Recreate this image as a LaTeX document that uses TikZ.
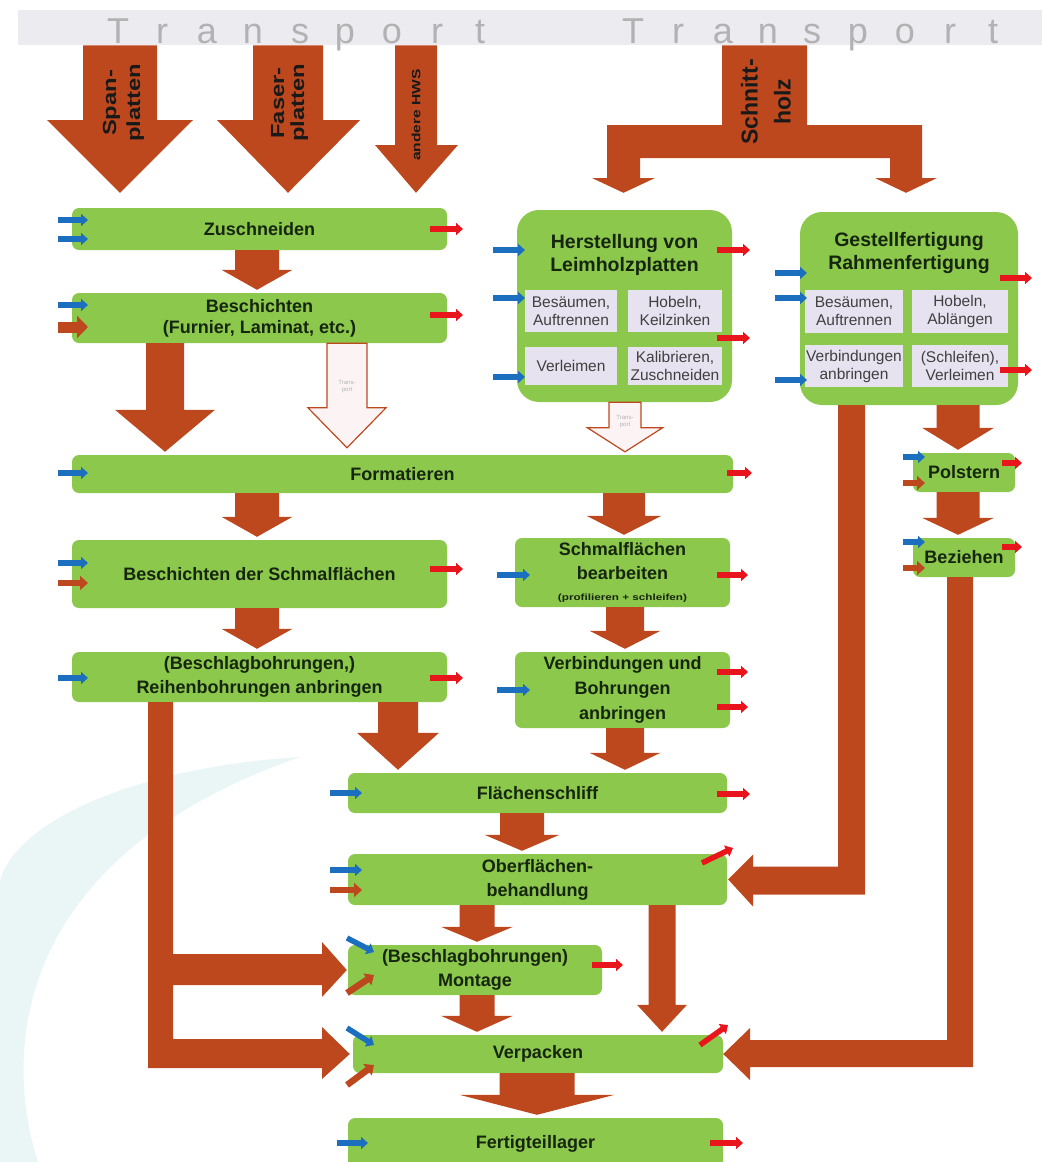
\documentclass[tikz,border=0pt]{standalone}
\usepackage{fontspec}
\setmainfont{Liberation Sans}
\usetikzlibrary{arrows.meta,calc}

\definecolor{boxgreen}{RGB}{140,200,76}
\definecolor{rust}{RGB}{190,72,30}
\definecolor{inblue}{RGB}{28,110,190}
\definecolor{outred}{RGB}{232,22,28}
\definecolor{lav}{RGB}{230,226,240}
\definecolor{boxtext}{RGB}{22,38,14}
\definecolor{bannerbg}{RGB}{235,235,240}
\definecolor{bannertext}{RGB}{178,178,178}
\definecolor{swoosh}{RGB}{234,246,246}
\definecolor{hollowfill}{RGB}{252,244,244}

% straight block arrow pointing down, from the bottom of one box to the top of the next
% #1 x, #2 source node, #3 target node, #4 half shaft width, #5 half head width, #6 head length
\newcommand\blockdown[6]{%
  \fill[rust] let \p1=(#2.south), \p2=(#3.north) in
    (#1pt-#4pt,\y1) -- (#1pt+#4pt,\y1) -- (#1pt+#4pt,\y2+#6pt+3pt)
    -- (#1pt+#5pt,\y2+#6pt+3pt) -- (#1pt,\y2+3pt) -- (#1pt-#5pt,\y2+#6pt+3pt)
    -- (#1pt-#4pt,\y2+#6pt+3pt) -- cycle;}
% outlined (hollow) block arrow, #7 gap above the target
\newcommand\hollowdown[7]{%
  \filldraw[draw=rust, fill=hollowfill, line width=1.2pt, line join=miter]
    let \p1=(#2.south), \p2=(#3.north) in
    (#1pt-#4pt,\y1) -- (#1pt+#4pt,\y1) -- (#1pt+#4pt,\y2+#6pt+#7pt)
    -- (#1pt+#5pt,\y2+#6pt+#7pt) -- (#1pt,\y2+#7pt) -- (#1pt-#5pt,\y2+#6pt+#7pt)
    -- (#1pt-#4pt,\y2+#6pt+#7pt) -- cycle;}

\tikzset{
  proc/.style={fill=boxgreen, rounded corners=7pt, inner sep=0pt, align=center,
    text=boxtext, font=\fontsize{18}{24}\selectfont\bfseries},
  bigproc/.style={fill=boxgreen, rounded corners=22pt, inner sep=0pt},
  ptitle/.style={align=center, text=boxtext, inner sep=0pt,
    font=\fontsize{19.5}{23}\selectfont\bfseries},
  sub/.style={fill=lav, inner sep=0pt, align=center, text=black!75,
    font=\fontsize{15.5}{18}\selectfont},
  srclabel/.style={rotate=90, align=center, text=black!90, inner sep=0pt},
  bannerchar/.style={anchor=base, text=bannertext, inner sep=0pt,
    font=\fontsize{36}{40}\selectfont},
  tinylabel/.style={align=center, text=black!30, inner sep=0pt,
    font=\fontsize{6}{7}\selectfont},
  bluein/.style={draw=inblue, line width=5.5pt, -{Triangle[length=7pt,width=12pt]}},
  redout/.style={draw=outred, line width=5.5pt, -{Triangle[length=7pt,width=12pt]}},
  rustin/.style={draw=rust, line width=6.5pt, -{Triangle[length=8pt,width=14pt]}},
  rustbig/.style={draw=rust, line width=11pt, -{Triangle[length=11pt,width=22pt]}},
}

\begin{document}
\begin{tikzpicture}[x=1pt,y=-1pt]
\useasboundingbox (0,0) rectangle (1042,1162);

% faint background swoosh
\fill[swoosh] (300,757) .. controls (150,766) and (20,815) .. (0,880) -- (0,1162)
  -- (38,1162) .. controls (5,1060) and (5,860) .. (300,757) -- cycle;

% transport banner
\node[fill=bannerbg, minimum width=1024pt, minimum height=35pt, inner sep=0pt,
  anchor=north west] (banner) at (18,10) {};
\foreach \ch/\xx [count=\i] in {T/118,r/162,a/207,n/253,s/300,p/345,o/392,r/437,t/480}
  \node[bannerchar] (bl-\i) at (\xx,43) {\ch};
\foreach \ch/\xx [count=\i] in {T/633,r/678,a/723,n/768,s/812,p/858,o/905,r/950,t/993}
  \node[bannerchar] (br-\i) at (\xx,43) {\ch};

% ---------- process boxes ----------
\node[proc, minimum width=375pt, minimum height=42pt] (zusch) at (259.5,229) {Zuschneiden};
\node[proc, minimum width=375pt, minimum height=50pt, font=\fontsize{18}{21}\selectfont\bfseries]
  (besch) at (259.5,318) {Beschichten\\(Furnier, Laminat, etc.)};
\node[proc, minimum width=661pt, minimum height=38pt] (format) at (402.5,474) {Formatieren};
\node[proc, minimum width=375pt, minimum height=68pt] (bschmal) at (259.5,574)
  {Beschichten der Schmalflächen};
\node[proc, minimum width=375pt, minimum height=50pt] (reihen) at (259.5,677)
  {(Beschlagbohrungen,)\\Reihenbohrungen anbringen};

\node[bigproc, minimum width=215pt, minimum height=192pt] (leim) at (624.5,306) {};
\node[ptitle] (leimtitle) at (624.5,255) {Herstellung von\\Leimholzplatten};
\node[sub, minimum width=92pt, minimum height=42pt] (l1) at (571,311) {Besäumen,\\Auftrennen};
\node[sub, minimum width=94pt, minimum height=42pt] (l2) at (675,311) {Hobeln,\\Keilzinken};
\node[sub, minimum width=92pt, minimum height=38pt] (l3) at (571,366) {Verleimen};
\node[sub, minimum width=94pt, minimum height=38pt] (l4) at (675,366) {Kalibrieren,\\Zuschneiden};

\node[bigproc, minimum width=218pt, minimum height=193pt] (gestell) at (909,308.5) {};
\node[ptitle] (gesttitle) at (909,253) {Gestellfertigung\\Rahmenfertigung};
\node[sub, minimum width=98pt, minimum height=43pt] (g1) at (854,311.5) {Besäumen,\\Auftrennen};
\node[sub, minimum width=96pt, minimum height=43pt] (g2) at (960,311.5) {Hobeln,\\Ablängen};
\node[sub, minimum width=98pt, minimum height=42pt] (g3) at (854,366) {Verbindungen\\anbringen};
\node[sub, minimum width=96pt, minimum height=42pt] (g4) at (960,366) {(Schleifen),\\Verleimen};

\node[proc, minimum width=215pt, minimum height=69pt] (schmal) at (622.5,572.5)
  {Schmalflächen\\bearbeiten\\[-3pt]\scalebox{1.3}[1]{\fontsize{9}{10}\selectfont(profilieren + schleifen)}};
\node[proc, minimum width=215pt, minimum height=76pt, font=\fontsize{18}{25}\selectfont\bfseries]
  (verb) at (622.5,690) {Verbindungen und\\Bohrungen\\anbringen};
\node[proc, minimum width=102pt, minimum height=39pt] (polster) at (964,472.5) {Polstern};
\node[proc, minimum width=102pt, minimum height=39pt] (bezieh) at (964,557.5) {Beziehen};

\node[proc, minimum width=379pt, minimum height=40pt] (flaech) at (537.5,793) {Flächenschliff};
\node[proc, minimum width=379pt, minimum height=51pt] (ober) at (537.5,879.5)
  {Oberflächen-\\behandlung};
\node[proc, minimum width=254pt, minimum height=50pt] (montage) at (475,970)
  {(Beschlagbohrungen)\\Montage};
\node[proc, minimum width=370pt, minimum height=38pt] (verpack) at (538,1054) {Verpacken};
\node[proc, minimum width=375pt, minimum height=52pt] (fertig) at (535.5,1144) {Fertigteillager};

% ---------- incoming material arrows ----------
\fill[rust] let \p1=(banner.south), \p2=(zusch.north) in
  (83pt,\y1) -- (157pt,\y1) -- (157,120) -- (193,120) -- (120pt,\y2+15pt)
  -- (47,120) -- (83,120) -- cycle;
\fill[rust] let \p1=(banner.south), \p2=(zusch.north) in
  (253pt,\y1) -- (323pt,\y1) -- (323,120) -- (360,120) -- (288pt,\y2+15pt)
  -- (217,120) -- (253,120) -- cycle;
\fill[rust] let \p1=(banner.south), \p2=(zusch.north) in
  (395pt,\y1) -- (437pt,\y1) -- (437,145) -- (458,145) -- (416pt,\y2+15pt)
  -- (375,145) -- (395,145) -- cycle;
\fill[rust] let \p1=(banner.south), \p2=(leim.north), \p3=(gestell.north) in
  (722pt,\y1) -- (807pt,\y1) -- (807,125) -- (922,125) -- (922,178) -- (937,178)
  -- (906pt,\y3+19pt) -- (875,178) -- (890,178) -- (890,158) -- (640,158)
  -- (640,178) -- (655,178) -- (623.5pt,\y2+17pt) -- (592,178) -- (607,178)
  -- (607,125) -- (722,125) -- cycle;

\node[srclabel, font=\fontsize{19}{30}\selectfont\bfseries] (spanlbl) at (122,103)
  {\scalebox{1.25}[1]{\begin{tabular}{@{}c@{}}Span-\\[-6pt]platten\end{tabular}}};
\node[srclabel, font=\fontsize{19}{30}\selectfont\bfseries] (faserlbl) at (288,103)
  {\scalebox{1.25}[1]{\begin{tabular}{@{}c@{}}Faser-\\[-10pt]platten\end{tabular}}};
\node[srclabel, font=\fontsize{12}{14}\selectfont\bfseries] (hwslbl) at (416,115)
  {\scalebox{1.3}[1]{andere HWS}};
\node[srclabel, font=\fontsize{23}{33}\selectfont\bfseries] (schnittlbl) at (766,102)
  {Schnitt-\\holz};

% ---------- flow arrows between boxes ----------
\blockdown{257}{zusch}{besch}{22}{35.5}{20}
\blockdown{165}{besch}{format}{19}{50}{42}
\hollowdown{347}{besch}{format}{20}{39}{40}{7}
\node[tinylabel] (tp1) at (347,387) {Trans-\\port};
\hollowdown{625}{leim}{format}{16}{37.5}{24}{3}
\node[tinylabel] (tp2) at (625,422) {Trans-\\port};
\blockdown{257}{format}{bschmal}{22}{35.5}{20}
\blockdown{624}{format}{schmal}{21}{37.5}{19}
\blockdown{257}{bschmal}{reihen}{22}{35.5}{20}
\blockdown{625}{schmal}{verb}{19}{35.5}{18}
\blockdown{625}{verb}{flaech}{19}{35.5}{17}
\blockdown{398}{reihen}{flaech}{20}{41}{37}
\blockdown{522}{flaech}{ober}{22}{37.5}{16}
\blockdown{477}{ober}{montage}{17.5}{36}{15}
\blockdown{662}{ober}{verpack}{13.5}{25}{27}
\blockdown{477}{montage}{verpack}{17.5}{36}{16}
\blockdown{537}{verpack}{fertig}{37.5}{77.5}{20}
\blockdown{958}{gestell}{polster}{21.5}{36}{22}
\blockdown{958}{polster}{bezieh}{21.5}{36}{17}

% frame parts to surface treatment and packing
\fill[rust] let \p1=(gestell.south), \p2=(ober.east) in
  (838pt,\y1) -- (865pt,\y1) -- (865pt,\y2-15pt) -- (753pt,\y2-15pt) -- (753pt,\y2-27pt)
  -- (\x2+1pt,\y2) -- (753pt,\y2+25pt) -- (753pt,\y2+13pt) -- (838pt,\y2+13pt) -- cycle;
\fill[rust] let \p1=(bezieh.south), \p2=(verpack.east) in
  (947pt,\y1) -- (973pt,\y1) -- (973pt,\y2-13pt) -- (750pt,\y2-13pt) -- (750pt,\y2-26pt)
  -- (\x2,\y2) -- (750pt,\y2+26pt) -- (750pt,\y2+14pt) -- (947pt,\y2+14pt) -- cycle;
% bored panels to assembly and packing
\fill[rust] let \p1=(reihen.south), \p2=(montage.west), \p3=(verpack.west) in
  (148pt,\y1) -- (173pt,\y1) -- (173pt,\y2+16pt) -- (322pt,\y2+16pt) -- (322pt,\y2+28pt)
  -- (\x2-1pt,\y2) -- (322pt,\y2-27pt) -- (322pt,\y2-15pt) -- (173pt,\y2-15pt)
  -- (173pt,\y3+15pt) -- (322pt,\y3+15pt) -- (322pt,\y3+27pt) -- (\x3-3pt,\y3)
  -- (322pt,\y3-25pt) -- (322pt,\y3-14pt) -- (148pt,\y3-14pt) -- cycle;

% ---------- inputs (left) and outputs (right) ----------
\draw[bluein] (58,220) -- (88,220);
\draw[bluein] (58,239) -- (88,239);
\draw[redout] (430,229) -- (463,229);
\draw[bluein] (58,305) -- (88,305);
\draw[rustbig] (58,327) -- (88,327);
\draw[redout] (430,315) -- (463,315);
\draw[bluein] (58,473) -- (88,473);
\draw[redout] (727,473) -- (752,473);
\draw[bluein] (58,563) -- (88,563);
\draw[rustin] (58,583) -- (88,583);
\draw[redout] (430,569) -- (463,569);
\draw[bluein] (58,678) -- (88,678);
\draw[redout] (430,678) -- (463,678);

\draw[bluein] (493,250) -- (525,250);
\draw[bluein] (493,298) -- (525,298);
\draw[bluein] (493,377) -- (525,377);
\draw[redout] (717,250) -- (750,250);
\draw[redout] (717,338) -- (750,338);

\draw[bluein] (775,273) -- (807,273);
\draw[bluein] (775,298) -- (807,298);
\draw[bluein] (775,380) -- (807,380);
\draw[redout] (1000,278) -- (1032,278);
\draw[redout] (1000,370) -- (1032,370);

\draw[bluein] (903,457) -- (925,457);
\draw[rustin] (903,483) -- (925,483);
\draw[redout] (1002,463) -- (1022,463);
\draw[bluein] (903,542) -- (925,542);
\draw[rustin] (903,568) -- (925,568);
\draw[redout] (1002,547) -- (1022,547);

\draw[bluein] (497,575) -- (530,575);
\draw[redout] (717,575) -- (748,575);
\draw[bluein] (497,690) -- (530,690);
\draw[redout] (717,672) -- (748,672);
\draw[redout] (717,707) -- (748,707);

\draw[bluein] (330,793) -- (362,793);
\draw[redout] (717,794) -- (750,794);
\draw[bluein] (330,870) -- (362,870);
\draw[rustin] (330,890) -- (362,890);
\draw[redout] (702,863) -- (733,848);
\draw[bluein] (347,938) -- (374,952);
\draw[rustin] (347,993) -- (374,975);
\draw[redout] (592,965) -- (623,965);
\draw[bluein] (347,1028) -- (374,1045);
\draw[rustin] (347,1085) -- (374,1065);
\draw[redout] (700,1045) -- (728,1025);
\draw[bluein] (337,1143) -- (368,1143);
\draw[redout] (710,1143) -- (743,1143);
\end{tikzpicture}
\end{document}
